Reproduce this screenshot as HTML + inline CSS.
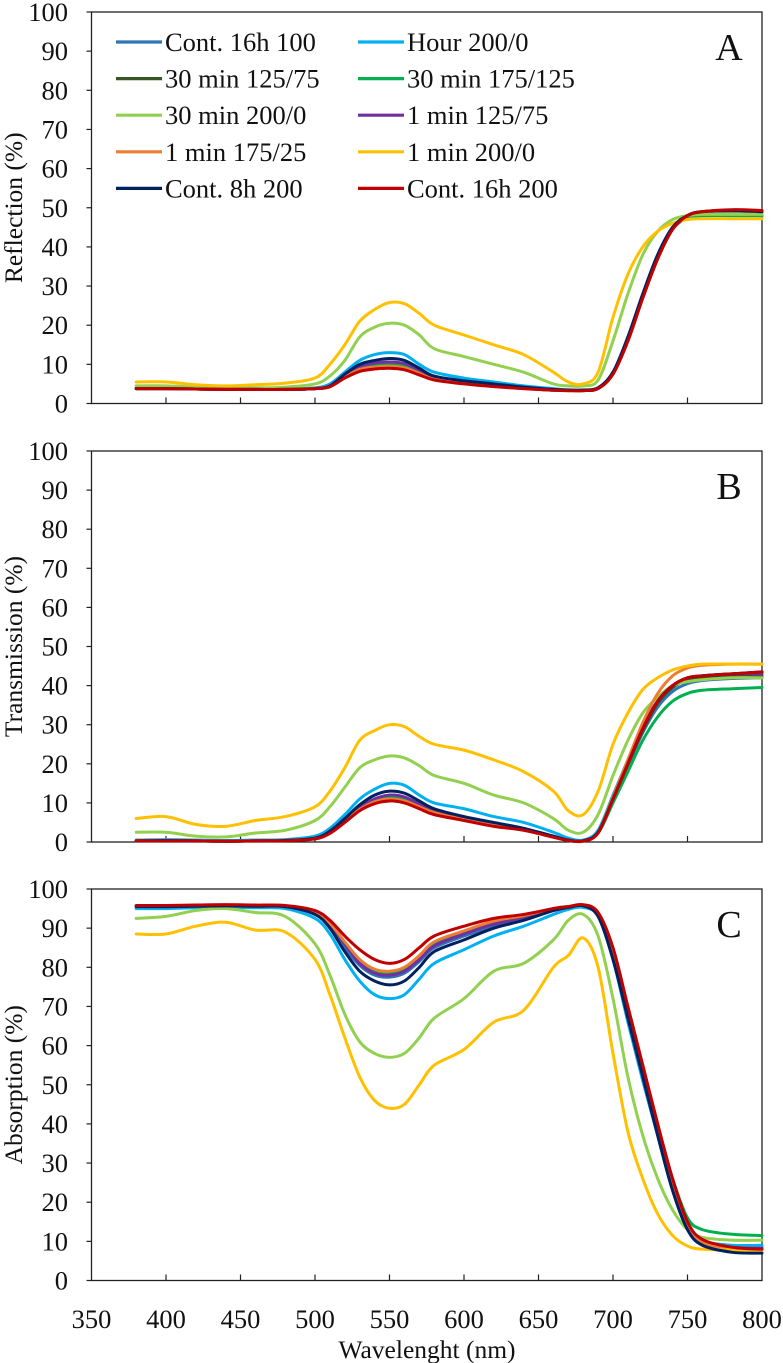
<!DOCTYPE html>
<html><head><meta charset="utf-8"><style>
body{margin:0;background:#fff;}
svg{display:block;}
svg text{font-family:"Liberation Serif","DejaVu Serif","Times New Roman",serif;}
</style></head><body>
<svg id="chart" width="783" height="1363" viewBox="0 0 783 1363" xmlns="http://www.w3.org/2000/svg" font-family="Liberation Serif, serif"></svg>
<script>
const wavelengths=[380,400,420,440,460,480,500,510,520,530,540,550,560,570,580,600,620,640,660,670,680,690,700,710,720,730,740,750,760,780,800];
const seriesNames=["Cont. 16h 100","Hour 200/0","30 min 125/75","30 min 175/125","30 min 200/0","1 min 125/75","1 min 175/25","1 min 200/0","Cont. 8h 200","Cont. 16h 200"];
const seriesColors=["#2e75b6","#00b0f0","#375623","#00b050","#92d050","#7030a0","#ed7d31","#ffc000","#002060","#c00000"];
const reflection=[
[3.8,3.8,3.7,3.6,3.6,3.6,3.8,4.4,7,9.3,10.2,10.5,10.1,8.5,6.7,5.5,4.7,4,3.5,3.4,3.4,3.9,7.6,16,27,37,44.5,47.5,48,48,48],
[4,4,3.8,3.8,3.8,3.8,4,5,8,11,12.5,13,12.5,10,8,6.5,5.5,4.5,3.8,3.5,3.5,4,8,17,28,38,45,48,49,49,48.8],
[3.8,3.8,3.7,3.6,3.6,3.6,3.8,4.3,6.8,9,9.8,10,9.6,8.1,6.5,5.3,4.5,3.9,3.4,3.3,3.3,3.8,7.5,16,27,37,44.5,48,49,49.2,49],
[3.8,3.8,3.7,3.6,3.6,3.6,3.8,4.3,6.8,9,9.8,10,9.6,8.1,6.5,5.3,4.5,3.9,3.4,3.3,3.3,3.9,7.8,16.5,27.5,37.5,44.5,47.5,48,48,48],
[4.5,4.5,4.2,4,4,4.2,5,7,11,17,19.5,20.5,20,17.5,14,12,10,8,5,4.5,4.5,6,16,28,38,44,47,48,48.3,48.3,48.3],
[3.8,3.8,3.7,3.6,3.6,3.6,3.8,4.4,7,9.4,10.3,10.6,10.2,8.5,6.7,5.5,4.7,4,3.5,3.4,3.4,3.9,7.6,16,27,37,44.5,48,49,49.2,49],
[3.8,3.8,3.7,3.6,3.6,3.6,3.8,4.3,6.7,8.7,9.3,9.5,9.1,7.7,6.2,5.1,4.4,3.8,3.4,3.3,3.3,3.8,7.5,16,27,37,44.5,48,49,49.2,49],
[5.5,5.5,4.8,4.5,4.8,5.2,6.5,10,15,21,24,25.8,25.5,23,20,17.5,15,12.5,8,5.5,5,8,22,33,40,44,46,47,47.2,47.2,47.2],
[3.8,3.8,3.7,3.6,3.6,3.6,3.8,4.5,7.5,10,11,11.5,11,9,7,5.8,5,4.2,3.6,3.4,3.4,4,8,17,28,38,45,48,49,49.3,49],
[3.8,3.8,3.7,3.6,3.6,3.6,3.8,4.3,6.5,8.2,8.8,9,8.6,7.3,6,5,4.3,3.8,3.4,3.3,3.3,3.8,7.5,16,27,37,44.5,48,49,49.5,49.3]
];
const transmission=[
[0.3,0.4,0.3,0.2,0.3,0.4,0.9,2.5,5.5,8.8,11,12,11.5,9.7,8,6,4.5,3.2,1.3,0.4,0.3,2.4,10.5,19.5,28,34.5,38.5,40.5,41.3,41.8,42],
[0.5,0.6,0.5,0.4,0.5,0.6,1.5,3.5,7,11,13.5,15,14.5,12,10,8.5,6.5,5,2.5,1,0.5,3,12,21,30,36,39.5,41.5,42.5,43,43],
[0.3,0.4,0.3,0.2,0.3,0.4,0.9,2.4,5.3,8.5,10.6,11.5,11,9.3,7.7,5.9,4.4,3.2,1.3,0.4,0.3,2.4,10.8,20,28.5,35.5,39.5,41.5,42,42.3,42.5],
[0.3,0.4,0.3,0.2,0.3,0.4,0.9,2.4,5.3,8.5,10.6,11.5,11,9.3,7.7,5.9,4.4,3.2,1.3,0.4,0.3,2.3,10,18,26,32,36,38,38.8,39.2,39.5],
[2.5,2.5,1.5,1.3,2.3,3,5.5,9,14,19,21,22,21.5,19.5,17,15,12,10,6,3,2.5,7,17,26,33,37,40,41,41.5,42,42],
[0.3,0.4,0.3,0.2,0.3,0.4,0.9,2.5,5.5,8.8,11,12,11.5,9.7,8,6,4.5,3.2,1.3,0.4,0.3,2.4,11,20,29,36,40,42,42.5,43,43],
[0.3,0.4,0.3,0.2,0.3,0.4,0.9,2.3,5.2,8.3,10.3,11,10.5,9,7.5,5.7,4.2,3.1,1.3,0.4,0.3,2.5,11.5,21,30.5,38,42.5,44.5,45.2,45.5,45.5],
[6,6.5,4.5,4,5.5,6.5,9,13,19,26,28.5,30,29.5,27,25,23.5,21,18,13,8,7,13,25,33,39,42,44,45,45.5,45.5,45.5],
[0.3,0.4,0.3,0.2,0.3,0.4,1,2.8,6,9.5,12,13,12.5,10.5,8.5,6.5,5,3.5,1.5,0.5,0.3,2.5,11,20,29,36,40,42,42.5,43,43.5],
[0.3,0.3,0.3,0.2,0.3,0.3,0.8,2.2,5,8,9.8,10.5,10,8.5,7,5.5,4,3,1.2,0.4,0.2,2.3,11,20,29,36,40,42,42.5,43,43.5]
];
const absorption=[
[95.5,95.5,95.6,95.7,95.6,95.5,93.8,90.5,85,80.5,78,77.5,78.5,81.5,85,88,90.5,92.5,94.5,95.3,95.7,93.2,82.5,67.5,52.5,38,24,13.5,9.8,8.5,8.5],
[95,95,95.2,95.3,95.2,95,92.5,88.5,82,76.5,73,72,73,77,81,84.5,88,90.5,93.5,94.8,95.3,93,82,66,51,37,23,13,10,9,9],
[95.6,95.6,95.7,95.8,95.7,95.6,94,91,86,81.5,79,78.5,79.5,82.5,86,89,91.5,93,95,95.5,95.8,93.5,83,68,53,38.5,24.5,14,10,8.3,8],
[95.6,95.6,95.7,95.8,95.7,95.6,94,91,86,81.5,79,78.5,79.5,82.5,86,89,91.5,93,95,95.5,95.8,93.5,83,68,53,39,26,16,13,11.8,11.5],
[92.5,93,94.5,95,94,93,86,78,68,61,58,57,58,62,67,72,79,81,87,92,93.5,88,72,52,37,26,18,13,11,10.3,10.3],
[95.6,95.6,95.7,95.8,95.7,95.6,94,91,86,81,78.5,78,79,82,85.5,88.5,91,92.8,94.8,95.4,95.8,93.4,83,68,53,38.5,24.5,14,10,8.5,8.2],
[95.7,95.7,95.8,95.9,95.8,95.7,94.2,91.3,86.5,82,79.5,79,80,83,86.5,89.3,91.8,93.2,95,95.5,95.9,93.5,83,68,53,38.5,24.5,14,9.7,8.2,7.8],
[88.5,88.5,90.5,91.5,89.5,89,82,73,62,52,46,44,45,50,55,59,66,69,80,83,87.5,80,58,38,26,17,11.5,8.8,8,7.8,7.8],
[95.5,95.5,95.6,95.7,95.6,95.5,93.5,90,84,79,76.5,75.5,76.5,80,84,87,90,92,94.5,95.3,95.7,93,82,67,52,37,23,13,9,7.2,7],
[95.8,95.8,95.9,96,95.9,95.8,94.5,92,88,84.5,82,81,82,85,88,90.5,92.5,93.5,95,95.5,96,94,85,70,55,40,26,15,10.5,8.5,8]
];
const yTicks=[0,10,20,30,40,50,60,70,80,90,100];
const xTickLabels=[350,400,450,500,550,600,650,700,750,800];

const NS="http://www.w3.org/2000/svg";
const FONT="'Liberation Serif', 'DejaVu Serif', serif";
const FS=26.5;
const svg=document.getElementById('chart');
function mk(tag,attrs,parent){const e=document.createElementNS(NS,tag);for(const k in attrs)e.setAttribute(k,attrs[k]);if(tag==='text'){e.style.fontFamily=FONT;}(parent||svg).appendChild(e);return e;}
const X0=91.5,X1=762;
function xScale(w){return X0+(w-350)/(800-350)*(X1-X0);}
const panels=[
 {top:12,bottom:403.5,data:reflection,title:"Reflection (%)",letter:"A",name:"reflection"},
 {top:451,bottom:842,data:transmission,title:"Transmission (%)",letter:"B",name:"transmission"},
 {top:889,bottom:1280.5,data:absorption,title:"Absorption (%)",letter:"C",name:"absorption"}
];
function smoothPath(pts){
 let d="M"+pts[0][0].toFixed(2)+","+pts[0][1].toFixed(2);
 for(let i=0;i<pts.length-1;i++){
  const p0=pts[i-1]||pts[i],p1=pts[i],p2=pts[i+1],p3=pts[i+2]||p2;
  const c1x=p1[0]+(p2[0]-p0[0])/6,c1y=p1[1]+(p2[1]-p0[1])/6;
  const c2x=p2[0]-(p3[0]-p1[0])/6,c2y=p2[1]-(p3[1]-p1[1])/6;
  d+=" C"+c1x.toFixed(2)+","+c1y.toFixed(2)+" "+c2x.toFixed(2)+","+c2y.toFixed(2)+" "+p2[0].toFixed(2)+","+p2[1].toFixed(2);
 }
 return d;
}
panels.forEach(p=>{
 const g=mk('g',{});
 
 
 const yScale=v=>p.bottom-v/100*(p.bottom-p.top);
 const box=mk('rect',{x:X0,y:p.top,width:X1-X0,height:p.bottom-p.top,fill:'none',stroke:'#222','stroke-width':1.3},g);
 
 
 yTicks.forEach(t=>{
  const y=yScale(t);
  const tk=mk('line',{x1:X0-5,x2:X0,y1:y,y2:y,stroke:'#222','stroke-width':1.2},g);
  
  
  const lb=mk('text',{x:68,y:y+9,'text-anchor':'end','font-size':FS,fill:'#111'},g);
  lb.textContent=t;
  
  
 });
 xTickLabels.slice(1,-1).forEach(t=>{
  const x=xScale(t);
  const tk=mk('line',{x1:x,x2:x,y1:p.bottom-6,y2:p.bottom,stroke:'#222','stroke-width':1.2},g);
  
  
 });
 const cy=(p.top+p.bottom)/2;
 const yt=mk('text',{x:0,y:0,transform:`translate(22,${cy}) rotate(-90)`,'text-anchor':'middle','font-size':FS-1,fill:'#111'},g);
 yt.textContent=p.title;
 
 
 const lt=mk('text',{x:729,y:p.top+48,'text-anchor':'middle','font-size':38,fill:'#111'},g);
 lt.textContent=p.letter;
 
 
 p.data.forEach((vals,si)=>{
  const pts=vals.map((v,i)=>[xScale(wavelengths[i]),yScale(v)]);
  const path=mk('path',{d:smoothPath(pts),fill:'none',stroke:seriesColors[si],'stroke-width':3,'stroke-linejoin':'round','stroke-linecap':'round'},g);
  
  
 });
});
xTickLabels.forEach(t=>{
 const lb=mk('text',{x:xScale(t),y:1328,'text-anchor':'middle','font-size':FS,fill:'#111'});
 lb.textContent=t;
 
 
});
const xt=mk('text',{x:427,y:1358,'text-anchor':'middle','font-size':FS-1,fill:'#111'});
xt.textContent="Wavelenght (nm)";


const legend=mk('g',{});


seriesNames.forEach((n,i)=>{
 const col=i%2,row=Math.floor(i/2);
 const y=42+row*36.6;
 const lx=col===0?116:358;
 const e=mk('g',{},legend);
 
 
 mk('line',{x1:lx,x2:lx+46,y1:y,y2:y,stroke:seriesColors[i],'stroke-width':3.2},e);
 const tx=mk('text',{x:lx+49,y:y+9,'font-size':FS,fill:'#111'},e);
 tx.textContent=n;
});
</script>
</body></html>
